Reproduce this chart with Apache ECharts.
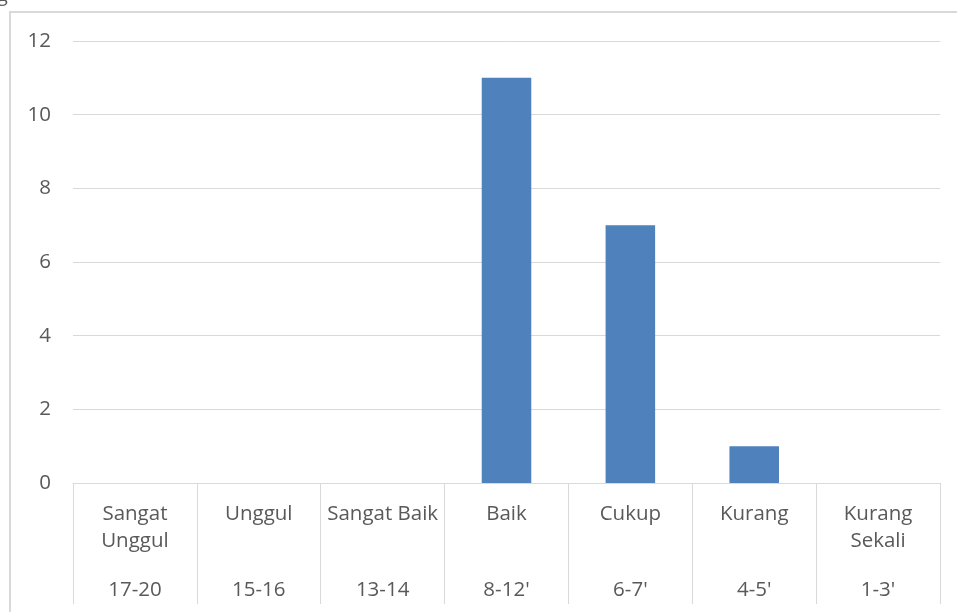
<!DOCTYPE html>
<html>
<head>
<meta charset="utf-8">
<script src="https://cdn.jsdelivr.net/npm/echarts@6/dist/echarts.min.js"></script>
<style>html,body{margin:0;padding:0;background:#fff}#c{width:957px;height:612px}</style>
</head>
<body>
<div id="c"></div>
<script>
var categories = ['Sangat\nUnggul', 'Unggul', 'Sangat Baik', 'Baik', 'Cukup', 'Kurang', 'Kurang\nSekali'];
var ranges = ['17-20', '15-16', '13-14', "8-12'", "6-7'", "4-5'", "1-3'"];
var values = [0, 0, 0, 11, 7, 1, 0];
var yTicks = { min: 0, max: 12, interval: 2 };

var FONT = 'Open Sans';
var TXT = '#595959';
var GRIDC = '#d9d9d9';

var chart = echarts.init(document.getElementById('c'), null, { renderer: 'canvas' });
chart.setOption({
  animation: false,
  backgroundColor: '#fff',
  textStyle: { fontFamily: FONT },
  grid: { left: 73, right: 17, top: 41, bottom: 129 },
  graphic: [
    { type: 'rect', silent: true, shape: { x: 10, y: 12, width: 2000, height: 2000 },
      style: { fill: 'none', stroke: GRIDC, lineWidth: 2 } },
    { type: 'text', silent: true, left: -3, top: -15,
      style: { text: 'g', font: '20px "Open Sans"', fill: TXT } }
  ],
  xAxis: [
    {
      type: 'category', data: categories, position: 'bottom',
      axisLine: { show: true, lineStyle: { color: GRIDC, width: 1 } },
      axisTick: { show: true, length: 121, interval: 0, lineStyle: { color: GRIDC, width: 1 } },
      axisLabel: { interval: 0, margin: 17.5, color: TXT, fontSize: 20.5, lineHeight: 27, fontFamily: FONT, align: 'center' },
      splitLine: { show: false }
    },
    {
      type: 'category', data: ranges, position: 'bottom',
      axisLine: { show: false }, axisTick: { show: false },
      axisLabel: { interval: 0, margin: 93.5, color: TXT, fontSize: 20.5, lineHeight: 27, fontFamily: FONT },
      splitLine: { show: false }
    }
  ],
  yAxis: {
    type: 'value', min: yTicks.min, max: yTicks.max, interval: yTicks.interval,
    axisLine: { show: false }, axisTick: { show: false },
    axisLabel: { margin: 22, color: TXT, fontSize: 20.5, fontFamily: FONT },
    splitLine: { lineStyle: { color: GRIDC, width: 1 } }
  },
  series: [{
    type: 'bar', data: values, xAxisIndex: 0, barWidth: '40%',
    itemStyle: { color: '#4f81bd' }
  }]
});
</script>
</body>
</html>
